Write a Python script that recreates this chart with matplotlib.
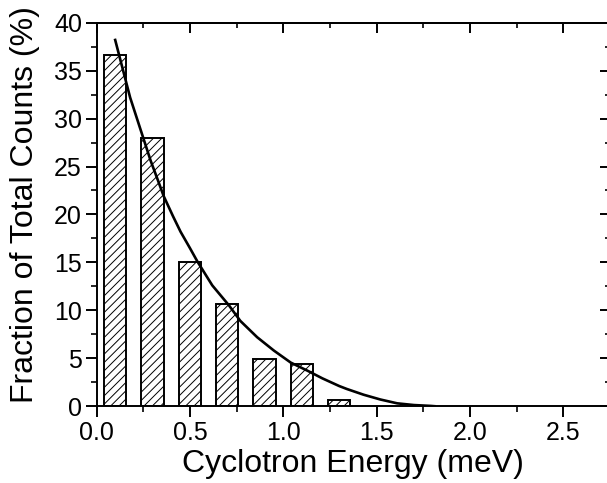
import numpy as np
import matplotlib.pyplot as plt
from matplotlib.ticker import MultipleLocator

plt.rcParams['font.family'] = ['Liberation Sans', 'DejaVu Sans']
plt.rcParams['hatch.color'] = '#444444'
plt.rcParams['hatch.linewidth'] = 0.7

# histogram of cyclotron energies
energy = [0.1, 0.3, 0.5, 0.7, 0.9, 1.1, 1.3]
fraction = [36.6, 28.0, 15.0, 10.7, 4.95, 4.35, 0.6]

# fitted curve
fit_x = [0.10, 0.12, 0.18, 0.25, 0.29, 0.33, 0.36, 0.41, 0.45, 0.50, 0.54,
         0.62, 0.71, 0.77, 0.86, 0.95, 1.04, 1.13, 1.21, 1.30, 1.34, 1.43,
         1.52, 1.61, 1.70, 1.79, 1.81]
fit_y = [38.2, 36.7, 32.2, 28.0, 25.6, 23.5, 21.9, 19.8, 18.2, 16.5, 15.1,
         12.6, 10.5, 8.9, 7.2, 5.8, 4.55, 3.7, 2.9, 2.1, 1.8, 1.2,
         0.7, 0.3, 0.12, 0.03, 0.0]

fig = plt.figure(figsize=(6.07, 4.83), dpi=100)
ax = fig.add_axes([0.159, 0.159, 0.846, 0.794])

ax.bar(energy, fraction, width=0.12, color='white', edgecolor='black',
       linewidth=1.4, hatch='////', zorder=2)
ax.plot(fit_x, fit_y, color='black', linewidth=1.9, zorder=3)

ax.set_xlim(0, 2.75)
ax.set_ylim(0, 40)
ax.xaxis.set_major_locator(MultipleLocator(0.5))
ax.xaxis.set_minor_locator(MultipleLocator(0.25))
ax.yaxis.set_major_locator(MultipleLocator(5))
ax.yaxis.set_minor_locator(MultipleLocator(2.5))
ax.set_xticks(np.arange(0, 2.51, 0.5))
ax.set_xticklabels(['0.0', '0.5', '1.0', '1.5', '2.0', '2.5'])

ax.tick_params(which='major', direction='out', length=8, width=1.4,
               labelsize=18)
ax.tick_params(axis='x', pad=3)
ax.tick_params(axis='y', pad=2.5)
ax.tick_params(which='minor', direction='out', length=4, width=1.2)
for s in ax.spines.values():
    s.set_linewidth(1.4)

# mirrored axes with ticks pointing in
top = ax.secondary_xaxis('top')
top.xaxis.set_major_locator(MultipleLocator(0.5))
top.xaxis.set_minor_locator(MultipleLocator(0.25))
top.tick_params(which='major', direction='in', length=7, width=1.4, labeltop=False)
top.tick_params(which='minor', direction='in', length=3.5, width=1.2)
top.spines['top'].set_linewidth(1.4)

right = ax.secondary_yaxis('right')
right.yaxis.set_major_locator(MultipleLocator(5))
right.yaxis.set_minor_locator(MultipleLocator(2.5))
right.tick_params(which='major', direction='in', length=7, width=1.4, labelright=False)
right.tick_params(which='minor', direction='in', length=3.5, width=1.2)

ax.set_xlabel('Cyclotron Energy (meV)', fontsize=23)
ax.xaxis.set_label_coords(0.5, -0.112)
ax.set_ylabel('Fraction of Total Counts (%)', fontsize=23)
ax.yaxis.set_label_coords(-0.11, 0.525)

plt.savefig('out.png', dpi=100)
